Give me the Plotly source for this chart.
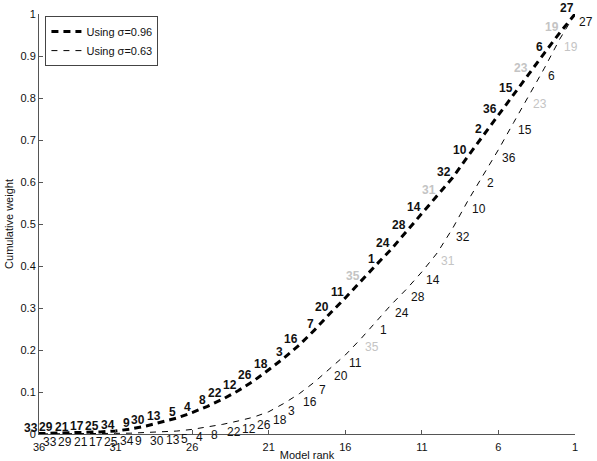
import plotly.graph_objects as go

ranks = list(range(1, 37))
models = [27, 19, 6, 23, 15, 36, 2, 10, 32, 31, 14, 28, 24, 1, 35, 11, 20, 7,
          16, 3, 18, 26, 12, 22, 8, 4, 5, 13, 30, 9, 34, 25, 17, 21, 29, 33]
gray_models = [35, 31, 23, 19]

w_096 = [1.0, 0.955, 0.907, 0.858, 0.81, 0.76, 0.712, 0.661, 0.61, 0.567,
         0.526, 0.483, 0.44, 0.402, 0.362, 0.324, 0.287, 0.248, 0.212, 0.181,
         0.153, 0.126, 0.103, 0.083, 0.066, 0.051, 0.038, 0.028, 0.019, 0.012,
         0.007, 0.005, 0.004, 0.003, 0.002, 0.001]
w_063 = [1.0, 0.94, 0.871, 0.805, 0.742, 0.677, 0.617, 0.555, 0.489, 0.431,
         0.386, 0.345, 0.308, 0.267, 0.226, 0.188, 0.156, 0.124, 0.096, 0.073,
         0.053, 0.04, 0.031, 0.023, 0.017, 0.011, 0.007, 0.005, 0.003, 0.002,
         0.0015, 0.001, 0.0008, 0.0006, 0.0004, 0.0003]

x_ticks = [36, 31, 26, 21, 16, 11, 6, 1]
y_ticks = [0, 0.1, 0.2, 0.3, 0.4, 0.5, 0.6, 0.7, 0.8, 0.9, 1]

FONT = "Liberation Sans, Arial, Helvetica, sans-serif"
GRAY = "#c4c4c4"
INK = "#111111"

fig = go.Figure()
fig.add_trace(go.Scatter(
    x=ranks, y=w_096, mode="lines", name="Using σ=0.96",
    line=dict(color="black", width=3, dash="7px,5px"),
))
fig.add_trace(go.Scatter(
    x=ranks, y=w_063, mode="lines", name="Using σ=0.63",
    line=dict(color="black", width=1, dash="6px,6px"),
))

annotations = []
for r, m, a, b in zip(ranks, models, w_096, w_063):
    col = GRAY if m in gray_models else INK
    annotations.append(dict(
        x=r, y=a, xref="x", yref="y", text="<b>%d</b>" % m, showarrow=False,
        xanchor="right", yanchor="middle", xshift=1, yshift=6,
        font=dict(family=FONT, size=12, color=col)))
    annotations.append(dict(
        x=r, y=b, xref="x", yref="y", text="%d" % m, showarrow=False,
        xanchor="left", yanchor="middle", xshift=2, yshift=-8,
        font=dict(family=FONT, size=12, color=col)))

fig.update_layout(
    width=597, height=461,
    margin=dict(l=39, r=22, t=14, b=27),
    paper_bgcolor="white", plot_bgcolor="white",
    font=dict(family=FONT, size=11, color=INK),
    showlegend=True,
    annotations=annotations,
    legend=dict(x=0.012, y=0.995, xanchor="left", yanchor="top",
                bgcolor="white", bordercolor="#444444", borderwidth=1,
                font=dict(size=11), tracegroupgap=0, itemwidth=30),
    xaxis=dict(range=[36, 1], tickvals=x_ticks, ticktext=[str(v) for v in x_ticks],
               ticks="inside", ticklen=4, tickcolor="#555555",
               showline=True, linecolor="#555555", linewidth=1,
               showgrid=False, zeroline=False, automargin=False,
               tickfont=dict(size=11), ticklabelstandoff=3,
               title=dict(text="Model rank", font=dict(size=11), standoff=5)),
    yaxis=dict(range=[0, 1], tickvals=y_ticks, ticktext=[("%g" % v) for v in y_ticks],
               ticks="inside", ticklen=4, tickcolor="#555555",
               showline=True, linecolor="#555555", linewidth=1,
               showgrid=False, zeroline=False, automargin=False,
               tickfont=dict(size=11),
               title=dict(text="Cumulative weight", font=dict(size=11), standoff=4)),
)

fig.write_html("out.html")
